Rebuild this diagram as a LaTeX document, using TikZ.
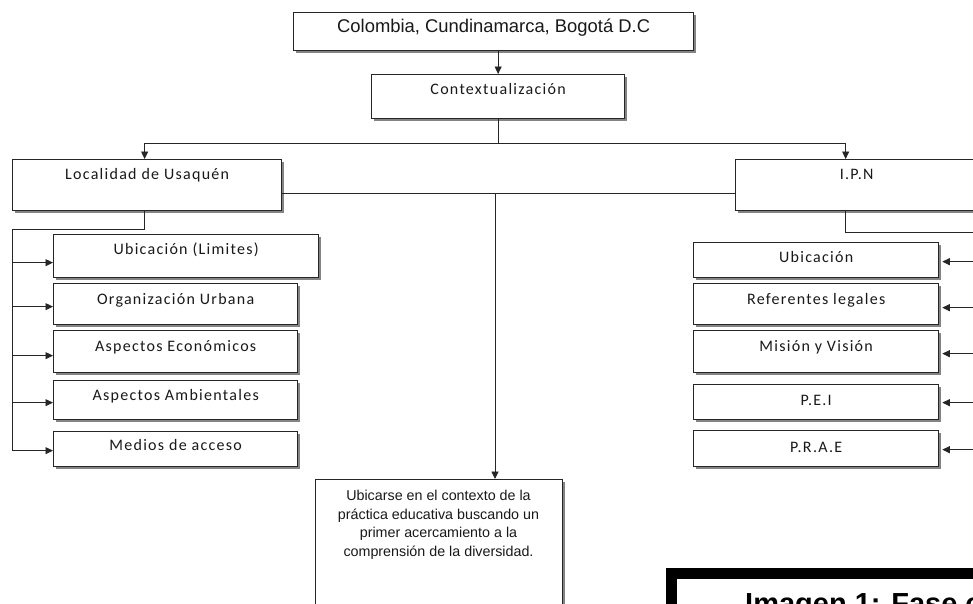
\documentclass[tikz,border=0pt]{standalone}
\usepackage{fontspec}
\setmainfont{Liberation Sans}
\newfontfamily\calfont[LetterSpace=8]{Carlito}
\usetikzlibrary{arrows.meta,shadows,calc}
\begin{document}
\begin{tikzpicture}[x=1pt,y=-1pt,
 box/.style={draw=black!85, line width=1.3pt, fill=white, inner sep=0pt, anchor=north west,
   drop shadow={shadow xshift=2.5pt, shadow yshift=-2.5pt, fill=black!60, opacity=0.8}},
 arialt/.style={font=\fontsize{18.4}{21}\selectfont, text=black!90},
 cal/.style={font=\calfont\fontsize{16}{19}\selectfont, text=black!90},
 conn/.style={draw=black!85, line width=0.9pt},
 arr/.style={conn, -{Triangle[length=7.5pt,width=7pt]}}]
\useasboundingbox (0,0) rectangle (973,603);
\clip (0,0) rectangle (973,603);
\fill[white] (0,0) rectangle (973,603);

% boxes
\node[box, arialt, minimum width=400pt, text height=19.5pt, text depth=18.5pt] (top) at (293,12) {Colombia, Cundinamarca, Bogotá D.C};
\node[box, cal, minimum width=253pt, text height=20pt, text depth=24pt] (ctx) at (371,74) {Contextualización};
\node[box, cal, minimum width=269pt, text height=20.3pt, text depth=30.7pt] (loc) at (12,159) {Localidad de Usaquén};
\node[box, cal, minimum width=242pt, text height=20.3pt, text depth=30.7pt] (ipn) at (735,159) {I.P.N};

\node[box, cal, minimum width=265pt, text height=19.5pt, text depth=23.5pt] (l1) at (53,234) {Ubicación (Limites)};
\node[box, cal, minimum width=244pt, text height=20.5pt, text depth=20.5pt] (l2) at (53,283) {Organización Urbana};
\node[box, cal, minimum width=244pt, text height=20.7pt, text depth=21.3pt] (l3) at (53,330) {Aspectos Económicos};
\node[box, cal, minimum width=244pt, text height=20pt, text depth=19pt] (l4) at (53,380) {Aspectos Ambientales};
\node[box, cal, minimum width=244pt, text height=19pt, text depth=16pt] (l5) at (53,431) {Medios de acceso};

\node[box, cal, minimum width=245pt, text height=19.7pt, text depth=15.3pt] (r1) at (693,242) {Ubicación};
\node[box, cal, minimum width=245pt, text height=21pt, text depth=20pt] (r2) at (693,283) {Referentes legales};
\node[box, cal, minimum width=245pt, text height=20.7pt, text depth=21.3pt] (r3) at (693,330) {Misión y Visión};
\node[box, cal, minimum width=245pt, text height=21pt, text depth=14pt] (r4) at (693,384) {P.E.I};
\node[box, cal, minimum width=245pt, text height=21.7pt, text depth=14.3pt] (r5) at (693,430) {P.R.A.E};

\node[box, minimum width=247pt, minimum height=200pt] (ubi) at (315,479) {};
\node[anchor=north, align=center, inner sep=0pt, font=\fontsize{14.3}{18.5}\selectfont, text=black!90] (ubit) at (438.5,490)
  {Ubicarse en el contexto de la\\práctica educativa buscando un\\primer acercamiento a la\\comprensión de la diversidad.};

% framed caption
\node[draw=black, line width=8.5pt, anchor=north west, minimum width=400pt, minimum height=100pt, inner sep=0pt] (imgo) at (666,568) {};
\node[draw=black, line width=2.3pt, anchor=north west, minimum width=400pt, minimum height=100pt, inner sep=0pt] (imgi) at (675,576.5) {};
\node[anchor=base west, inner sep=0pt, font=\bfseries\fontsize{29}{34}\selectfont] (imgt) at (745,613) {Imagen 1: Fase c};

% connectors
\draw[arr] (ctx.north |- top.south) -- (ctx.north);
\coordinate (jc) at ($(ctx.south)+(0,24)$);
\draw[conn] (ctx.south) -- (jc);
\draw[arr] (jc) -| ([xshift=-2.5pt]loc.north);
\draw[arr] (jc) -| ([xshift=-11pt]ipn.north);

\draw[conn] ([yshift=-8.5pt]loc.east) -- ([yshift=-8.5pt]ipn.west);
\coordinate (mid) at (495,193);
\draw[arr] (mid) -- (mid |- ubi.north);

\foreach \n/\s in {l1/-6.5,l2/-2.5,l3/-4,l4/-2.5,l5/-1.5}
  {\path ([yshift=\s pt]\n.west) coordinate (t\n);}
\coordinate (lb) at (12,229);
\draw[conn] ([xshift=-2.5pt]loc.south) |- (lb) -- (lb |- tl5);
\foreach \n in {l1,l2,l3,l4,l5}
  {\draw[arr] (lb |- t\n) -- (t\n);}

\foreach \n/\s in {r1/-1.5,r2/-3.5,r3/-2,r4/-0.5,r5/-1}
  {\path ([yshift=\s pt, xshift=3pt]\n.east) coordinate (t\n);}
\coordinate (rb) at (976,232);
\draw[conn] ([xshift=-11pt]ipn.south) |- (rb) -- (rb |- tr5);
\foreach \n in {r1,r2,r3,r4,r5}
  {\draw[arr] (rb |- t\n) -- (t\n);}
\end{tikzpicture}
\end{document}
